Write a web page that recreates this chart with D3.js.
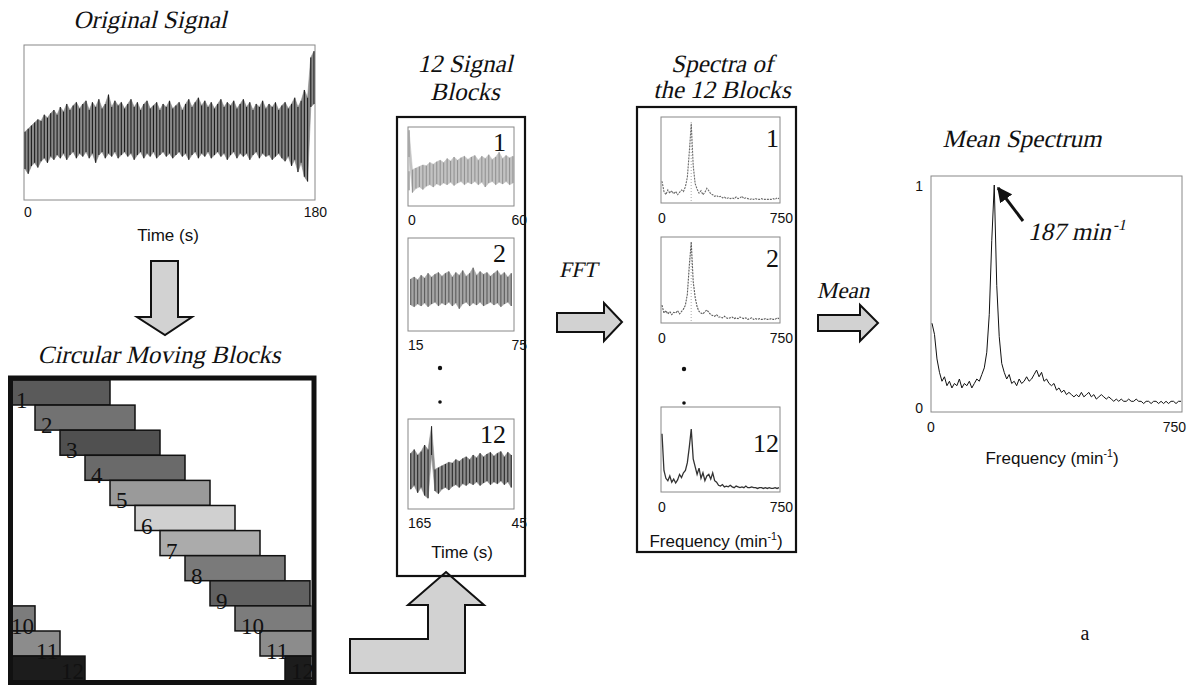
<!DOCTYPE html>
<html><head><meta charset="utf-8">
<script src="https://cdn.jsdelivr.net/npm/d3@7"></script>
<style>body{margin:0;background:#fff}</style>
</head><body><svg id="c" width="1204" height="685" xmlns="http://www.w3.org/2000/svg"></svg>
<script>
// ---------------- DATA ----------------
// Original signal, sampled every 2 s from 0 to 180 s: upper and lower envelope (arbitrary units, 0-100)
const sigStep = 2;
const sigTop = [44,46,48,50,52,51,55,53,56,58,55,60,57,62,58,61,63,59,62,64,58,63,60,65,59,62,68,60,64,61,
  63,59,62,65,60,63,58,62,64,59,61,63,58,62,60,64,59,61,63,58,62,65,60,63,66,61,64,60,63,59,
  62,65,60,63,61,64,59,62,65,60,63,58,62,60,64,59,62,60,63,58,61,63,59,62,66,60,64,71,66,92,96];
const sigBot = [20,17,22,24,21,25,27,24,28,26,29,27,30,26,29,31,27,30,28,31,27,30,24,29,31,27,30,28,31,27,
  29,31,28,30,26,29,31,27,30,28,31,27,29,31,28,30,27,29,31,28,30,26,29,31,27,30,28,31,27,29,
  31,28,30,26,29,31,27,30,28,30,26,29,31,27,30,28,29,26,28,30,27,25,28,22,26,18,24,15,12,60,62];

// Circular moving blocks
const totalLen = 180;
const blockLen = 60;
const blockStarts = [0,15,30,45,60,75,90,105,120,135,150,165];
const blockColors = ["#5a5a5a","#727272","#505050","#6a6a6a","#9a9a9a","#d0d0d0","#ababab","#7a7a7a","#616161","#7c7c7c","#8c8c8c","#1c1c1c"];

// Signal blocks shown
const shownBlocks = [1,2,12];
const blockTickLabels = [["0","60"],["15","75"],["165","45"]];

// Spectra of blocks (frequency step 12.5 min^-1, 0..750)
const specStep = 12.5;
const spec1 = [0.25,0.12,0.08,0.14,0.10,0.13,0.09,0.12,0.08,0.11,0.14,0.12,0.18,0.30,0.62,0.98,0.45,0.22,0.15,0.10,
  0.13,0.08,0.11,0.16,0.13,0.09,0.08,0.06,0.07,0.05,0.06,0.04,0.05,0.03,0.04,0.03,0.04,0.03,0.05,0.03,
  0.04,0.06,0.03,0.04,0.03,0.02,0.03,0.02,0.03,0.02,0.02,0.03,0.02,0.02,0.02,0.02,0.02,0.03,0.02,0.04,0.03];
const spec2 = [0.20,0.10,0.13,0.09,0.12,0.08,0.11,0.10,0.13,0.09,0.12,0.15,0.20,0.34,0.70,1.00,0.50,0.30,0.18,0.12,
  0.10,0.09,0.12,0.14,0.11,0.08,0.07,0.06,0.08,0.05,0.05,0.04,0.06,0.04,0.03,0.04,0.05,0.03,0.04,0.03,
  0.05,0.04,0.03,0.04,0.02,0.03,0.04,0.02,0.03,0.02,0.03,0.02,0.02,0.03,0.02,0.02,0.03,0.02,0.02,0.04,0.03];
const spec12 = [0.72,0.25,0.15,0.12,0.18,0.10,0.14,0.09,0.13,0.20,0.16,0.22,0.25,0.35,0.55,0.78,0.40,0.30,0.20,0.28,
  0.15,0.22,0.12,0.18,0.20,0.14,0.22,0.12,0.10,0.06,0.05,0.07,0.04,0.05,0.04,0.06,0.04,0.03,0.05,0.04,
  0.03,0.04,0.03,0.05,0.03,0.03,0.04,0.03,0.03,0.02,0.03,0.03,0.02,0.03,0.02,0.03,0.02,0.02,0.03,0.02,0.03];

// Mean spectrum (frequency step 7.5 min^-1, 0..750)
const meanStep = 7.5;
const meanSpec = [0.38,0.33,0.22,0.16,0.12,0.14,0.10,0.12,0.09,0.11,0.10,0.13,0.09,0.11,0.10,0.12,0.09,0.11,0.13,0.12,
  0.15,0.18,0.25,0.42,0.75,1.00,0.55,0.32,0.20,0.16,0.13,0.15,0.11,0.12,0.10,0.13,0.11,0.12,0.14,0.12,
  0.13,0.15,0.17,0.14,0.16,0.12,0.13,0.11,0.10,0.11,0.08,0.09,0.07,0.08,0.06,0.07,0.06,0.05,0.06,0.05,
  0.07,0.05,0.06,0.07,0.05,0.06,0.04,0.05,0.06,0.05,0.04,0.05,0.04,0.03,0.04,0.03,0.04,0.03,0.03,0.04,
  0.03,0.03,0.04,0.03,0.03,0.02,0.03,0.03,0.02,0.03,0.03,0.02,0.03,0.02,0.03,0.02,0.03,0.03,0.02,0.03,0.03];
const peakFreq = 187;

// ---------------- DRAW ----------------
const svg = d3.select('#c');
const serif = "'Liberation Serif','Times New Roman',serif";
const sans = "'Liberation Sans',Arial,sans-serif";
svg.append('rect').attr('width',1204).attr('height',685).attr('fill','#fff');

function txt(x,y,s,opt={}){
  let t;
  if(opt.it){
    t = svg.append('text').attr('transform',`translate(${x},${y}) skewX(-13)`).attr('x',0).attr('y',0);
  } else {
    t = svg.append('text').attr('x',x).attr('y',y);
  }
  t.text(s).attr('font-family',opt.ff||serif).attr('font-size',opt.fs||25)
    .attr('text-anchor',opt.anchor||'middle').attr('fill',opt.fill||'#111');
  return t;
}
function supTxt(x,y,base,sup,tail,opt){
  const t = txt(x,y,'',opt);
  const fs = opt.fs||18;
  t.append('tspan').text(base);
  t.append('tspan').text(sup).attr('font-size',fs*0.62).attr('dy',-fs*0.4);
  if(tail) t.append('tspan').text(tail).attr('dy',fs*0.4);
  return t;
}

const sigT = sigTop.map((d,i)=>i*sigStep);

function drawSignalPanel(x0,x1,y0,y1,pts,xDom,fillC,lineC){
  const g = svg.append('g');
  const x = d3.scaleLinear().domain(xDom).range([x0+1,x1-1]);
  const y = d3.scaleLinear().domain([0,100]).range([y1,y0]);
  g.append('rect').attr('x',x0).attr('y',y0).attr('width',x1-x0).attr('height',y1-y0)
    .attr('fill','none').attr('stroke','#888').attr('stroke-width',1);
  const area = d3.area().x(d=>x(d.t)).y0(d=>y(d.lo)).y1(d=>y(d.hi));
  g.append('path').attr('d',area(pts)).attr('fill',fillC).attr('stroke',fillC).attr('stroke-width',0.6);
  g.selectAll('line.v').data(pts).enter().append('line')
    .attr('x1',d=>x(d.t)).attr('x2',d=>x(d.t)).attr('y1',d=>y(d.hi)).attr('y2',d=>y(d.lo))
    .attr('stroke',lineC).attr('stroke-width',1.1);
  return {x,y,g};
}

// Original signal
const origPts = sigT.map((t,i)=>({t,hi:sigTop[i],lo:sigBot[i]}));
drawSignalPanel(24,315,45,200,origPts,[0,180],'#8a8a8a','#1e1e1e');
txt(150,28,'Original Signal',{it:true,fs:25});
txt(24,217,'0',{ff:sans,fs:14,anchor:'start'});
txt(327,217,'180',{ff:sans,fs:14,anchor:'end'});
txt(168,241,'Time  (s)',{ff:sans,fs:17});

// Arrow style
const arrowFill = '#d2d2d2';
function poly(points){
  svg.append('path').attr('d',d3.line()(points)+'Z').attr('fill',arrowFill)
    .attr('stroke','#111').attr('stroke-width',2).attr('stroke-linejoin','miter');
}
// down arrow
poly([[151,261],[178,261],[178,317],[192,317],[165,335],[137,317],[151,317]]);

// Circular moving blocks
txt(159,363,'Circular Moving Blocks',{it:true,fs:25});
const cx = d3.scaleLinear().domain([0,totalLen]).range([10,310]);
const rowY = i=>380+i*25.1;
const rowH = 25;
svg.append('clipPath').attr('id','boxclip').append('rect').attr('x',12.5).attr('y',380).attr('width',299).attr('height',301);
const bg = svg.append('g').attr('clip-path','url(#boxclip)');
blockStarts.forEach((s,i)=>{
  const e = s+blockLen;
  const segs = e<=totalLen ? [[s,e]] : [[s,totalLen+5],[0,e-totalLen]];
  segs.forEach(([a,b])=>{
    bg.append('rect').attr('x',cx(a)).attr('y',rowY(i)).attr('width',cx(b)-cx(a)).attr('height',rowH)
      .attr('fill',blockColors[i]).attr('stroke','#111').attr('stroke-width',1.5);
  });
});
blockStarts.forEach((s,i)=>{
  const e = s+blockLen;
  const by = Math.min(rowY(i)+rowH+3, 679);
  svg.append('text').attr('x',cx(s)+6).attr('y',by).text(i+1)
    .attr('font-family',serif).attr('font-size',23).attr('fill','#111');
  if(e>totalLen){
    svg.append('text').attr('x',cx(e-totalLen)-24).attr('y',by).text(i+1)
      .attr('font-family',serif).attr('font-size',23).attr('fill','#111');
  }
});
svg.append('rect').attr('x',10.5).attr('y',378).attr('width',303.5).attr('height',304.5)
  .attr('fill','none').attr('stroke','#111').attr('stroke-width',5);

// L-shaped up arrow
poly([[446,572],[484,605],[465,605],[465,673],[350,673],[350,639],[428,639],[428,605],[408,605]]);

// 12 Signal Blocks
txt(465,72,'12 Signal',{it:true,fs:25});
txt(465,100,'Blocks',{it:true,fs:25});
svg.append('rect').attr('x',397).attr('y',117).attr('width',128).attr('height',459)
  .attr('fill','none').attr('stroke','#111').attr('stroke-width',2.2);
const sigPanels = [[127,206],[238,331],[419,509]];
const sigFills = [['#c2c2c2','#939393'],['#a6a6a6','#5c5c5c'],['#8e8e8e','#2a2a2a']];
shownBlocks.forEach((b,k)=>{
  const s = blockStarts[b-1];
  const pts=[];
  sigT.forEach((t,i)=>{
    if(b===12 && t===totalLen) return;
    const rel = ((t - s) % totalLen + totalLen) % totalLen;
    if(rel<=blockLen) pts.push({t:rel,hi:sigTop[i],lo:sigBot[i]});
  });
  pts.sort((a,c)=>a.t-c.t);
  const [y0,y1]=sigPanels[k];
  drawSignalPanel(408,514,y0,y1,pts,[0,blockLen],sigFills[k][0],sigFills[k][1]);
  txt(506,y0+24,String(b),{fs:26,anchor:'end'});
  txt(408,y1+19,blockTickLabels[k][0],{ff:sans,fs:14,anchor:'start'});
  txt(527,y1+19,blockTickLabels[k][1],{ff:sans,fs:14,anchor:'end'});
});
svg.append('circle').attr('cx',440).attr('cy',368).attr('r',2.2).attr('fill','#111');
svg.append('circle').attr('cx',440).attr('cy',402).attr('r',1.8).attr('fill','#111');
txt(462,558,'Time (s)',{ff:sans,fs:17});

// FFT arrow
txt(578,277,'FFT',{it:true,fs:22});
poly([[557,313],[604,313],[604,303],[622,322],[604,341],[604,332],[557,332]]);

// Spectra of the 12 blocks
txt(722,72,'Spectra of',{it:true,fs:25});
txt(722,98,'the 12 Blocks',{it:true,fs:25});
svg.append('rect').attr('x',637).attr('y',107).attr('width',159).attr('height',445)
  .attr('fill','none').attr('stroke','#111').attr('stroke-width',2.2);
const specPanels = [[117,203],[237,323],[407,492]];
const specData = [spec1,spec2,spec12];
const specColors = ['#6a6a6a','#5a5a5a','#333'];
shownBlocks.forEach((b,k)=>{
  const [y0,y1]=specPanels[k];
  const x = d3.scaleLinear().domain([0,750]).range([662,779]);
  const y = d3.scaleLinear().domain([0,1]).range([y1-2,y0+5]);
  svg.append('rect').attr('x',661).attr('y',y0).attr('width',119).attr('height',y1-y0)
    .attr('fill','none').attr('stroke','#888').attr('stroke-width',1);
  if(k<2){
    svg.append('line').attr('x1',x(peakFreq)).attr('x2',x(peakFreq)).attr('y1',y(1)).attr('y2',y1)
      .attr('stroke','#aaa').attr('stroke-dasharray','1,2');
  }
  const line = d3.line().x((d,i)=>x(i*specStep)).y(d=>y(d));
  svg.append('path').attr('d',line(specData[k])).attr('fill','none').attr('stroke',specColors[k])
    .attr('stroke-width',k<2?1.1:1.3).attr('stroke-dasharray',k<2?'2,1':null);
  txt(779,k===2?y0+45:y0+30,String(b),{fs:26,anchor:'end'});
  txt(662,y1+20,'0',{ff:sans,fs:14});
  txt(793,y1+20,'750',{ff:sans,fs:14,anchor:'end'});
});
svg.append('circle').attr('cx',684).attr('cy',369).attr('r',2.2).attr('fill','#111');
svg.append('circle').attr('cx',684).attr('cy',403).attr('r',1.8).attr('fill','#111');
supTxt(716,547,'Frequency (min','-1',')',{ff:sans,fs:17});

// Mean arrow
txt(843,298,'Mean',{it:true,fs:23});
poly([[818,315],[860,315],[860,305],[878,323],[860,341],[860,331],[818,331]]);

// Mean spectrum
txt(1022,147,'Mean Spectrum',{it:true,fs:25});
const mx = d3.scaleLinear().domain([0,750]).range([932,1181]);
const my = d3.scaleLinear().domain([0,1]).range([408,185]);
svg.append('rect').attr('x',931).attr('y',176).attr('width',251).attr('height',236)
  .attr('fill','none').attr('stroke','#888').attr('stroke-width',1);
svg.append('path').attr('d',d3.line().x((d,i)=>mx(i*meanStep)).y(d=>my(d))(meanSpec))
  .attr('fill','none').attr('stroke','#111').attr('stroke-width',1);
txt(923,191,'1',{ff:sans,fs:14,anchor:'end'});
txt(923,413,'0',{ff:sans,fs:14,anchor:'end'});
txt(931,432,'0',{ff:sans,fs:14});
txt(1186,432,'750',{ff:sans,fs:14,anchor:'end'});
supTxt(1052,464,'Frequency (min','-1',')',{ff:sans,fs:17});
// annotation arrow
svg.append('defs').append('marker').attr('id','ah').attr('viewBox','0 0 10 10').attr('refX',9).attr('refY',5)
  .attr('markerWidth',5).attr('markerHeight',5).attr('orient','auto')
  .append('path').attr('d','M0,0L10,5L0,10Z').attr('fill','#111');
svg.append('line').attr('x1',1023).attr('y1',221).attr('x2',mx(peakFreq)+4).attr('y2',my(1)+3)
  .attr('stroke','#111').attr('stroke-width',3).attr('marker-end','url(#ah)');
supTxt(1028,240,'187 min','-1','',{it:true,fs:25,anchor:'start'});

txt(1085,640,'a',{fs:20});
</script></body></html>
